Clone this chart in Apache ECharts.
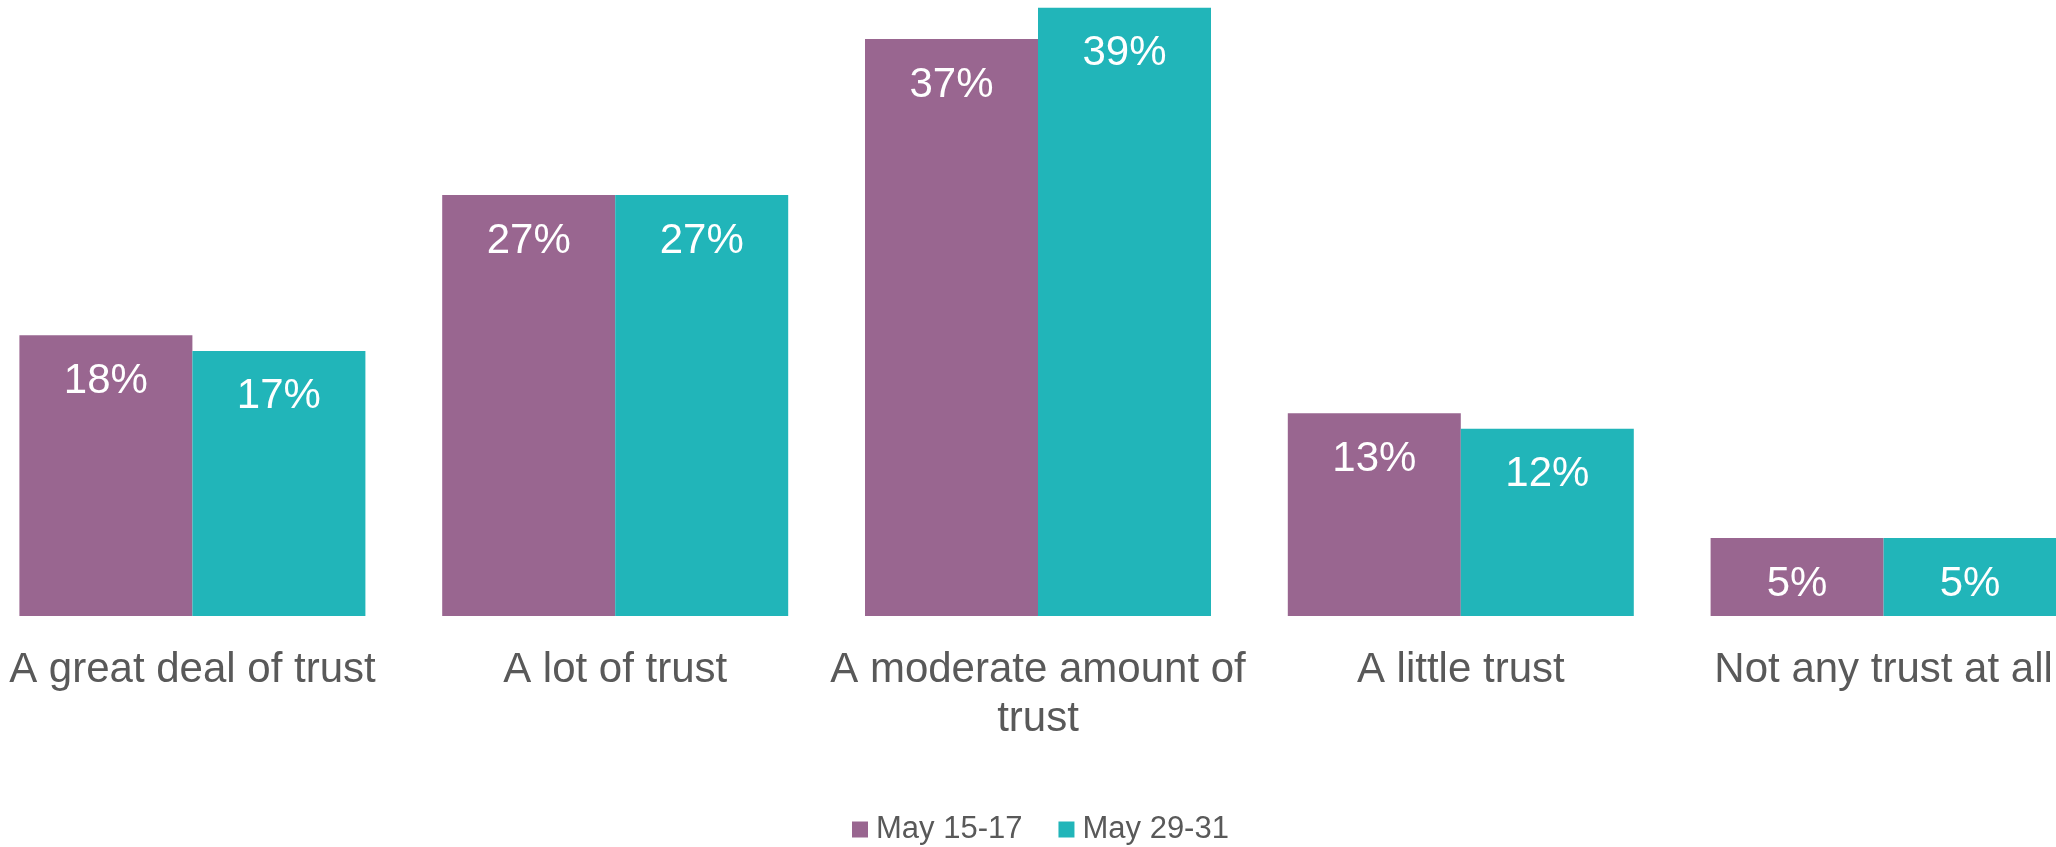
<!DOCTYPE html>
<html>
<head>
<meta charset="utf-8">
<script src="https://cdn.jsdelivr.net/npm/echarts@6/dist/echarts.min.js"></script>
<style>
  html, body { margin: 0; padding: 0; background: #ffffff; }
  #chart { width: 2056px; height: 847px; }
</style>
</head>
<body>
<div id="chart"></div>
<script>
// Level of trust, two survey waves
const categories = [
  'A great deal of trust',
  'A lot of trust',
  'A moderate amount of\ntrust',
  'A little trust',
  'Not any trust at all'
];
const seriesNames = ['May 15-17', 'May 29-31'];
const wave1 = [18, 27, 37, 13, 5];
const wave2 = [17, 27, 39, 12, 5];

const purple = '#996690';
const teal = '#21B5B9';
const textGray = '#595959';

function barSeries(name, values, color) {
  return {
    name: name,
    type: 'bar',
    data: values,
    barWidth: 173,
    barGap: '0%',
    itemStyle: { color: color },
    label: {
      show: true,
      position: 'insideTop',
      distance: 25,
      color: '#ffffff',
      fontSize: 42,
      fontFamily: 'Liberation Sans, Arial, sans-serif',
      formatter: p => p.value + '%'
    },
    emphasis: { disabled: true }
  };
}

const chart = echarts.init(document.getElementById('chart'), null, { renderer: 'canvas' });
chart.setOption({
  animation: false,
  backgroundColor: '#ffffff',
  grid: {
    left: -19,
    width: 2114,
    top: 0,
    bottom: 231,
    containLabel: false,
    outerBoundsMode: 'none'
  },
  legend: {
    data: seriesNames,
    left: 852,
    top: 814,
    padding: 0,
    itemWidth: 16,
    itemHeight: 16,
    itemGap: 36,
    icon: 'rect',
    textStyle: {
      color: textGray,
      fontSize: 31,
      fontFamily: 'Liberation Sans, Arial, sans-serif',
      padding: [0, 0, 0, 3]
    }
  },
  xAxis: {
    type: 'category',
    data: categories,
    axisLine: { show: false },
    axisTick: { show: false },
    axisLabel: {
      color: textGray,
      fontSize: 42,
      lineHeight: 49,
      margin: 30,
      interval: 0,
      hideOverlap: false,
      fontFamily: 'Liberation Sans, Arial, sans-serif'
    }
  },
  yAxis: {
    type: 'value',
    min: 0,
    max: 39.5,
    show: false,
    splitLine: { show: false }
  },
  series: [
    barSeries(seriesNames[0], wave1, purple),
    barSeries(seriesNames[1], wave2, teal)
  ]
});
</script>
</body>
</html>
